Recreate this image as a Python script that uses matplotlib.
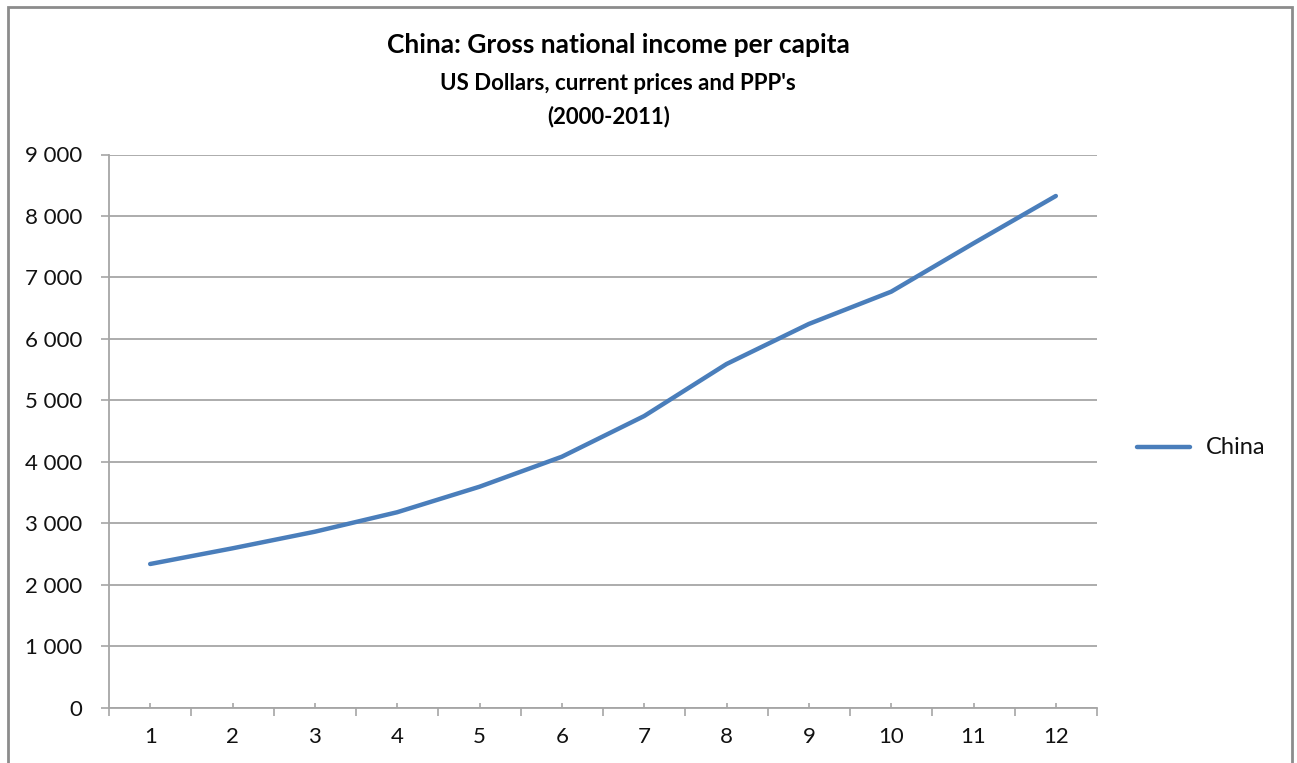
import matplotlib
matplotlib.use("Agg")
import matplotlib.pyplot as plt
from matplotlib.ticker import FuncFormatter, FixedLocator
from matplotlib.patches import Rectangle
from matplotlib.lines import Line2D

# data
categories = list(range(1, 13))
china_gni = [2338, 2593, 2863, 3180, 3595, 4083, 4745, 5591, 6243, 6768, 7555, 8325]
y_ticks = [0, 1000, 2000, 3000, 4000, 5000, 6000, 7000, 8000, 9000]

title = "China: Gross national income per capita"
subtitle = "US Dollars, current prices and PPP's"
period = "(2000-2011)"

plt.rcParams['font.family'] = ['Lato', 'DejaVu Sans']

W, H = 1297, 763
fig = plt.figure(figsize=(W / 100, H / 100), dpi=100)
fig.patch.set_facecolor('white')

# outer chart frame
fig.add_artist(Rectangle((8 / W, -0.05), (1292 - 8) / W, 1.05 - 7 / H,
                         transform=fig.transFigure, fill=False,
                         edgecolor='#8c8c8c', linewidth=2))

ax = fig.add_axes([109 / W, 1 - 707.7 / H, (1097 - 109) / W, (707.7 - 154.5) / H])

grid_c = '#a6a6a6'
line_c = '#4a7ebb'
text_c = '#111111'

ax.plot(categories, china_gni, color=line_c, linewidth=3.2,
        solid_capstyle='round', solid_joinstyle='round', label='China')

ax.set_xlim(0.5, 12.5)
ax.set_ylim(0, 9000)
ax.set_yticks(y_ticks)
ax.yaxis.set_major_formatter(FuncFormatter(lambda v, p: f"{int(v):,}".replace(",", " ")))
ax.grid(axis='y', color=grid_c, linewidth=1.3)
ax.set_axisbelow(True)

# category axis: boundaries get outward ticks, labels sit in the middle
bounds = [c + 0.5 for c in [0] + categories]
ax.xaxis.set_major_locator(FixedLocator(bounds))
ax.xaxis.set_minor_locator(FixedLocator(categories))
ax.set_xticklabels([''] * len(bounds))
ax.set_xticklabels([str(c) for c in categories], minor=True)
ax.tick_params(axis='x', which='major', direction='out', length=5.5, width=1.2, color=grid_c)
ax.tick_params(axis='x', which='minor', direction='in', length=3.5, width=1.2, color=grid_c,
               labelsize=16, pad=14, labelcolor=text_c)
ax.tick_params(axis='y', direction='out', length=6, width=1.2, color=grid_c,
               labelsize=16, pad=13, labelcolor=text_c)

for s in ['top', 'right']:
    ax.spines[s].set_visible(False)
for s in ['left', 'bottom']:
    ax.spines[s].set_color(grid_c)
    ax.spines[s].set_linewidth(1.3)

fig.text(618 / W, 1 - 45 / H, title, ha='center', va='center',
         fontsize=19, fontweight='bold', color='black')
fig.text(618 / W, 1 - 83 / H, subtitle, ha='center', va='center',
         fontsize=16, fontweight='bold', color='black')
fig.text(609 / W, 1 - 117 / H, period, ha='center', va='center',
         fontsize=16, fontweight='bold', color='black')

# legend drawn on the right like the spreadsheet chart
fig.add_artist(Line2D([1137 / W, 1190 / W], [1 - 447 / H, 1 - 447 / H],
                      transform=fig.transFigure, color=line_c, linewidth=3.2,
                      solid_capstyle='round'))
fig.text(1206 / W, 1 - 447 / H, 'China', ha='left', va='center',
         fontsize=17, color=text_c)

fig.savefig('out.png', dpi=100, facecolor='white')
